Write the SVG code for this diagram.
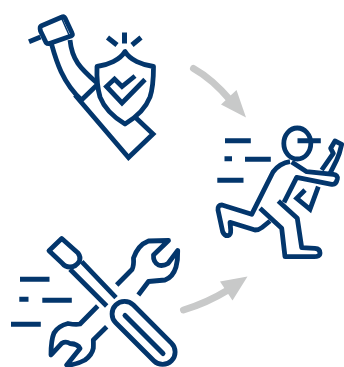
<svg xmlns="http://www.w3.org/2000/svg" width="344" height="367" viewBox="0 0 344 367">
<style>
.n{fill:none;stroke:#03366c;stroke-width:4.800;stroke-linejoin:round}
.j{stroke-linejoin:miter}
.s{fill:none;stroke:#03366c;stroke-width:5}
.a{fill:none;stroke:#c8c9c9;stroke-width:7;stroke-linecap:round}
.h{fill:#c8c9c9}
</style>
<rect width="344" height="367" fill="#fff"/>
<g id="connectors">
<path class="a" d="M193.500 68.500C207 76 220 88 231 101"/>
<path class="h" d="M246 117.500L236.500 90L221 104.500Z"/>
<path class="a" d="M183.500 310C200 305 215 298 228 290"/>
<path class="h" d="M247.500 276.500L220 281.500L232.500 300.500Z"/>
</g>
<g id="handpiece-shield">
<path class="n" d="M41 26L62 17Q64 16 65 18L72 33Q73 35 71 36L49.500 43.500Q47.500 44 46 42.500L40.500 31Q39.500 27 41 26Z"/>
<path d="M61.500 18L69.500 36" fill="none" stroke="#03366c" stroke-width="1.500"/>
<path class="s" d="M29 41.800L40.500 37"/>
<path class="n" d="M51.500 44C56 60 62 82 82 100.500M70 40C72 60 80 68 97 83M81.500 100L98 84"/>
<path class="n j" d="M75 95L128.500 157.500L153 134L135 117"/>
<path class="n" d="M125 51.500C120 60 108 65 97 66.500C96.500 80 98 90 100 97C105 110 115 118 125 124C135 118 145 110 150 97C153 88 153.500 80 153.500 66.500C142 65 130 60 125 51.500Z"/>
<path class="n j" d="M135 76L122 86.500L114.500 79L106.500 86.500L122 103L145 79.500"/>
<path class="s" d="M107.500 37.500L117 45M124.500 32.500V43.500M141 37.500L132 45"/>
</g>
<g id="runner">
<ellipse class="n" cx="297.300" cy="143.500" rx="13.500" ry="15.500"/>
<path class="s" d="M297.500 140.700H320.800M225 140.700H250.800M224.500 158.700H232M245 159.300H270.800M217.300 180.300H243.500"/>
<path class="n" d="M291.700 162L306.700 171.700L333.300 174.300Q338 175 337.300 179Q336 185 331.700 184.300L296.700 177.300L284 202.300M290 161.700Q280 163 273 172L251.700 214.300L222 205Q217.500 205 218 210L222.700 231.700Q224.500 236 228 235.700Q231 235 230.700 230L230 222.300L255 230Q259 230 262 227.500L270 221"/>
<path class="n" d="M260 208.300L281.700 228.300L285 256.700H313.300Q320 257 320 253Q320 248.500 315 248.300L301.700 247.700L297.300 218.300L278.300 201"/>
<path class="n" d="M321.700 170L333.300 153.300L330.700 148.300L335 141L341.700 144.300L339.300 153.300L336.700 160L330 173.300"/>
<path class="n j" d="M318.300 186.700L310 209.300L296.700 198.300L305 190"/>
</g>
<g id="tools">
<path class="s" d="M20 279.300H49.500M19.300 299.300H28.500M42.300 300.300H71.800M11 324.300H40.800"/>
<path class="n" d="M49 250.700L61.700 238.500L78 253Q81 257 79.500 261Q76 267 70 267Q65 267 62 263Z"/>
<path class="n" d="M70 269.300L106.700 306M81.700 261.700L116 297.700"/>
<rect class="n" x="-39.400" y="-12.500" width="78.800" height="25" rx="12.500" transform="translate(143.600 332.900) rotate(45)"/>
<path class="s" d="M125 315.500L163 353.500" stroke-linecap="round"/>
<path class="n" d="M116.700 285L132 269.500Q134 266 133.500 258Q138 245 148.500 241L168.500 240.500L153.500 255Q153 262 158.500 265Q163 266.500 168 263.500L177.700 250.500Q178 260 176 267Q173 277 165 280L148.500 281.500L138.300 295"/>
<path class="n" d="M97.700 306L80 324Q76 325 68 323.500Q58 326 54 333Q51 340 51 355L61.700 343.300Q66 341 70 343.500Q78 344 80 348.500L66.700 365Q76 365 85 360Q92 355 93.300 348.300Q93.500 343 93.300 340L106.700 326.700"/>
</g>
</svg>
